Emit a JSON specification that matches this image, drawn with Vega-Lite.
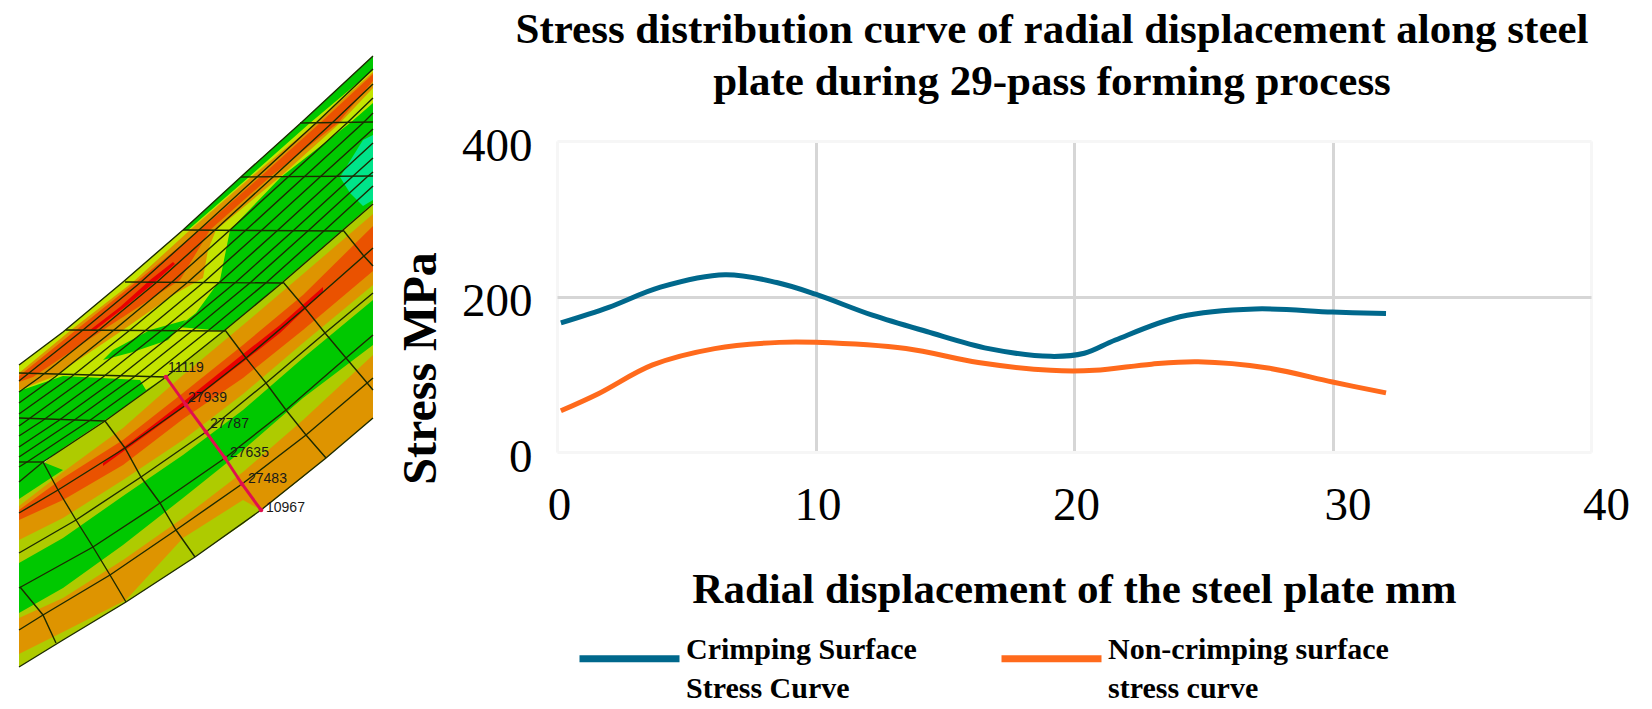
{
  "$schema": "https://vega.github.io/schema/vega-lite/v6.json",
  "background": "white",
  "padding": {"left": 16, "top": 9, "right": 0, "bottom": 0},
  "spacing": 21,
  "config": {"view": {"stroke": null}},
  "datasets": {
    "curves": [
      {"series": "Crimping Surface Stress Curve", "disp": 0.15, "stress": 166},
      {"series": "Crimping Surface Stress Curve", "disp": 2, "stress": 186},
      {"series": "Crimping Surface Stress Curve", "disp": 4, "stress": 212},
      {"series": "Crimping Surface Stress Curve", "disp": 6.5, "stress": 228},
      {"series": "Crimping Surface Stress Curve", "disp": 8.5, "stress": 218},
      {"series": "Crimping Surface Stress Curve", "disp": 10, "stress": 203},
      {"series": "Crimping Surface Stress Curve", "disp": 12.2, "stress": 176},
      {"series": "Crimping Surface Stress Curve", "disp": 14.3, "stress": 155},
      {"series": "Crimping Surface Stress Curve", "disp": 16.7, "stress": 133},
      {"series": "Crimping Surface Stress Curve", "disp": 19.1, "stress": 123},
      {"series": "Crimping Surface Stress Curve", "disp": 20.4, "stress": 127},
      {"series": "Crimping Surface Stress Curve", "disp": 21.6, "stress": 144},
      {"series": "Crimping Surface Stress Curve", "disp": 24.1, "stress": 174},
      {"series": "Crimping Surface Stress Curve", "disp": 27, "stress": 184},
      {"series": "Crimping Surface Stress Curve", "disp": 30, "stress": 180},
      {"series": "Crimping Surface Stress Curve", "disp": 32.07, "stress": 178},
      {"series": "Non-crimping surface stress curve", "disp": 0.15, "stress": 53},
      {"series": "Non-crimping surface stress curve", "disp": 1.6, "stress": 75},
      {"series": "Non-crimping surface stress curve", "disp": 3.7, "stress": 112},
      {"series": "Non-crimping surface stress curve", "disp": 6.1, "stress": 133},
      {"series": "Non-crimping surface stress curve", "disp": 8.6, "stress": 141},
      {"series": "Non-crimping surface stress curve", "disp": 10, "stress": 141},
      {"series": "Non-crimping surface stress curve", "disp": 13.5, "stress": 133},
      {"series": "Non-crimping surface stress curve", "disp": 16.3, "stress": 115},
      {"series": "Non-crimping surface stress curve", "disp": 19.1, "stress": 105},
      {"series": "Non-crimping surface stress curve", "disp": 20.8, "stress": 105},
      {"series": "Non-crimping surface stress curve", "disp": 23, "stress": 113},
      {"series": "Non-crimping surface stress curve", "disp": 24.8, "stress": 116},
      {"series": "Non-crimping surface stress curve", "disp": 27.5, "stress": 108},
      {"series": "Non-crimping surface stress curve", "disp": 30, "stress": 90},
      {"series": "Non-crimping surface stress curve", "disp": 32.07, "stress": 76}
    ],
    "patches": [
      {"patch": "a", "band": "green", "x": 16, "y": 365}, {"patch": "a", "band": "green", "x": 60, "y": 332}, {"patch": "a", "band": "green", "x": 120, "y": 282}, {"patch": "a", "band": "green", "x": 180, "y": 230}, {"patch": "a", "band": "green", "x": 240, "y": 175}, {"patch": "a", "band": "green", "x": 300, "y": 121}, {"patch": "a", "band": "green", "x": 370, "y": 56}, {"patch": "a", "band": "green", "x": 370, "y": 204}, {"patch": "a", "band": "green", "x": 340, "y": 230}, {"patch": "a", "band": "green", "x": 280, "y": 282}, {"patch": "a", "band": "green", "x": 222, "y": 330}, {"patch": "a", "band": "green", "x": 163, "y": 377}, {"patch": "a", "band": "green", "x": 102, "y": 421}, {"patch": "a", "band": "green", "x": 40, "y": 462}, {"patch": "a", "band": "green", "x": 16, "y": 482},
      {"patch": "b", "band": "teal", "x": 370, "y": 135}, {"patch": "b", "band": "teal", "x": 360, "y": 140}, {"patch": "b", "band": "teal", "x": 337, "y": 177}, {"patch": "b", "band": "teal", "x": 347, "y": 193}, {"patch": "b", "band": "teal", "x": 360, "y": 206}, {"patch": "b", "band": "teal", "x": 370, "y": 200},
      {"patch": "c", "band": "yellow", "x": 16, "y": 365}, {"patch": "c", "band": "yellow", "x": 60, "y": 332}, {"patch": "c", "band": "yellow", "x": 120, "y": 282}, {"patch": "c", "band": "yellow", "x": 180, "y": 230}, {"patch": "c", "band": "yellow", "x": 240, "y": 175}, {"patch": "c", "band": "yellow", "x": 300, "y": 121}, {"patch": "c", "band": "yellow", "x": 370, "y": 56}, {"patch": "c", "band": "yellow", "x": 370, "y": 103}, {"patch": "c", "band": "yellow", "x": 347, "y": 123}, {"patch": "c", "band": "yellow", "x": 278, "y": 177}, {"patch": "c", "band": "yellow", "x": 227, "y": 230}, {"patch": "c", "band": "yellow", "x": 217, "y": 280}, {"patch": "c", "band": "yellow", "x": 193, "y": 313}, {"patch": "c", "band": "yellow", "x": 175, "y": 327}, {"patch": "c", "band": "yellow", "x": 222, "y": 331}, {"patch": "c", "band": "yellow", "x": 163, "y": 377}, {"patch": "c", "band": "yellow", "x": 143, "y": 390}, {"patch": "c", "band": "yellow", "x": 137, "y": 380}, {"patch": "c", "band": "yellow", "x": 60, "y": 376}, {"patch": "c", "band": "yellow", "x": 16, "y": 391},
      {"patch": "d", "band": "green", "x": 183, "y": 320}, {"patch": "d", "band": "green", "x": 147, "y": 330}, {"patch": "d", "band": "green", "x": 110, "y": 350}, {"patch": "d", "band": "green", "x": 100, "y": 360}, {"patch": "d", "band": "green", "x": 130, "y": 352}, {"patch": "d", "band": "green", "x": 165, "y": 340},
      {"patch": "e", "band": "green", "x": 180, "y": 230}, {"patch": "e", "band": "green", "x": 240, "y": 175}, {"patch": "e", "band": "green", "x": 300, "y": 121}, {"patch": "e", "band": "green", "x": 370, "y": 56}, {"patch": "e", "band": "green", "x": 370, "y": 70}, {"patch": "e", "band": "green", "x": 307, "y": 123}, {"patch": "e", "band": "green", "x": 246, "y": 177}, {"patch": "e", "band": "green", "x": 185, "y": 230},
      {"patch": "f", "band": "orange", "x": 16, "y": 373}, {"patch": "f", "band": "orange", "x": 68, "y": 330}, {"patch": "f", "band": "orange", "x": 130, "y": 282}, {"patch": "f", "band": "orange", "x": 187, "y": 230}, {"patch": "f", "band": "orange", "x": 248, "y": 177}, {"patch": "f", "band": "orange", "x": 313, "y": 123}, {"patch": "f", "band": "orange", "x": 370, "y": 72}, {"patch": "f", "band": "orange", "x": 370, "y": 88}, {"patch": "f", "band": "orange", "x": 337, "y": 123}, {"patch": "f", "band": "orange", "x": 277, "y": 177}, {"patch": "f", "band": "orange", "x": 213, "y": 230}, {"patch": "f", "band": "orange", "x": 205, "y": 250}, {"patch": "f", "band": "orange", "x": 200, "y": 278}, {"patch": "f", "band": "orange", "x": 170, "y": 295}, {"patch": "f", "band": "orange", "x": 120, "y": 330}, {"patch": "f", "band": "orange", "x": 50, "y": 377}, {"patch": "f", "band": "orange", "x": 16, "y": 390},
      {"patch": "g", "band": "redorange", "x": 16, "y": 376}, {"patch": "g", "band": "redorange", "x": 73, "y": 330}, {"patch": "g", "band": "redorange", "x": 133, "y": 282}, {"patch": "g", "band": "redorange", "x": 197, "y": 230}, {"patch": "g", "band": "redorange", "x": 257, "y": 177}, {"patch": "g", "band": "redorange", "x": 317, "y": 123}, {"patch": "g", "band": "redorange", "x": 370, "y": 74}, {"patch": "g", "band": "redorange", "x": 370, "y": 81}, {"patch": "g", "band": "redorange", "x": 335, "y": 123}, {"patch": "g", "band": "redorange", "x": 267, "y": 177}, {"patch": "g", "band": "redorange", "x": 207, "y": 230}, {"patch": "g", "band": "redorange", "x": 177, "y": 280}, {"patch": "g", "band": "redorange", "x": 100, "y": 330}, {"patch": "g", "band": "redorange", "x": 30, "y": 377}, {"patch": "g", "band": "redorange", "x": 16, "y": 382},
      {"patch": "h", "band": "red", "x": 170, "y": 262}, {"patch": "h", "band": "red", "x": 147, "y": 280}, {"patch": "h", "band": "red", "x": 117, "y": 307}, {"patch": "h", "band": "red", "x": 87, "y": 330}, {"patch": "h", "band": "red", "x": 92, "y": 330}, {"patch": "h", "band": "red", "x": 122, "y": 307}, {"patch": "h", "band": "red", "x": 152, "y": 282}, {"patch": "h", "band": "red", "x": 172, "y": 264},
      {"patch": "i", "band": "olive", "x": 16, "y": 482}, {"patch": "i", "band": "olive", "x": 60, "y": 448}, {"patch": "i", "band": "olive", "x": 120, "y": 408}, {"patch": "i", "band": "olive", "x": 180, "y": 363}, {"patch": "i", "band": "olive", "x": 240, "y": 315}, {"patch": "i", "band": "olive", "x": 300, "y": 264}, {"patch": "i", "band": "olive", "x": 370, "y": 203}, {"patch": "i", "band": "olive", "x": 370, "y": 418}, {"patch": "i", "band": "olive", "x": 300, "y": 477}, {"patch": "i", "band": "olive", "x": 240, "y": 524}, {"patch": "i", "band": "olive", "x": 180, "y": 565}, {"patch": "i", "band": "olive", "x": 120, "y": 604}, {"patch": "i", "band": "olive", "x": 60, "y": 640}, {"patch": "i", "band": "olive", "x": 16, "y": 667},
      {"patch": "j", "band": "green", "x": 16, "y": 482}, {"patch": "j", "band": "green", "x": 40, "y": 462}, {"patch": "j", "band": "green", "x": 60, "y": 470}, {"patch": "j", "band": "green", "x": 16, "y": 499},
      {"patch": "k", "band": "orange", "x": 16, "y": 506}, {"patch": "k", "band": "orange", "x": 60, "y": 472}, {"patch": "k", "band": "orange", "x": 120, "y": 428}, {"patch": "k", "band": "orange", "x": 180, "y": 375}, {"patch": "k", "band": "orange", "x": 240, "y": 325}, {"patch": "k", "band": "orange", "x": 300, "y": 274}, {"patch": "k", "band": "orange", "x": 370, "y": 214}, {"patch": "k", "band": "orange", "x": 370, "y": 285}, {"patch": "k", "band": "orange", "x": 300, "y": 343}, {"patch": "k", "band": "orange", "x": 240, "y": 394}, {"patch": "k", "band": "orange", "x": 180, "y": 440}, {"patch": "k", "band": "orange", "x": 120, "y": 480}, {"patch": "k", "band": "orange", "x": 60, "y": 518}, {"patch": "k", "band": "orange", "x": 16, "y": 540},
      {"patch": "l", "band": "redorange", "x": 16, "y": 510}, {"patch": "l", "band": "redorange", "x": 60, "y": 478}, {"patch": "l", "band": "redorange", "x": 120, "y": 440}, {"patch": "l", "band": "redorange", "x": 180, "y": 393}, {"patch": "l", "band": "redorange", "x": 240, "y": 345}, {"patch": "l", "band": "redorange", "x": 300, "y": 295}, {"patch": "l", "band": "redorange", "x": 370, "y": 226}, {"patch": "l", "band": "redorange", "x": 370, "y": 271}, {"patch": "l", "band": "redorange", "x": 300, "y": 330}, {"patch": "l", "band": "redorange", "x": 240, "y": 378}, {"patch": "l", "band": "redorange", "x": 180, "y": 419}, {"patch": "l", "band": "redorange", "x": 120, "y": 465}, {"patch": "l", "band": "redorange", "x": 60, "y": 500}, {"patch": "l", "band": "redorange", "x": 16, "y": 520},
      {"patch": "m", "band": "red", "x": 100, "y": 463}, {"patch": "m", "band": "red", "x": 150, "y": 425}, {"patch": "m", "band": "red", "x": 180, "y": 402}, {"patch": "m", "band": "red", "x": 240, "y": 354}, {"patch": "m", "band": "red", "x": 277, "y": 325}, {"patch": "m", "band": "red", "x": 320, "y": 287}, {"patch": "m", "band": "red", "x": 320, "y": 292}, {"patch": "m", "band": "red", "x": 277, "y": 333}, {"patch": "m", "band": "red", "x": 240, "y": 362}, {"patch": "m", "band": "red", "x": 180, "y": 408}, {"patch": "m", "band": "red", "x": 150, "y": 430}, {"patch": "m", "band": "red", "x": 100, "y": 466},
      {"patch": "n", "band": "green", "x": 16, "y": 563}, {"patch": "n", "band": "green", "x": 60, "y": 538}, {"patch": "n", "band": "green", "x": 120, "y": 496}, {"patch": "n", "band": "green", "x": 180, "y": 455}, {"patch": "n", "band": "green", "x": 240, "y": 410}, {"patch": "n", "band": "green", "x": 300, "y": 358}, {"patch": "n", "band": "green", "x": 370, "y": 300}, {"patch": "n", "band": "green", "x": 370, "y": 345}, {"patch": "n", "band": "green", "x": 300, "y": 398}, {"patch": "n", "band": "green", "x": 240, "y": 450}, {"patch": "n", "band": "green", "x": 180, "y": 498}, {"patch": "n", "band": "green", "x": 120, "y": 545}, {"patch": "n", "band": "green", "x": 60, "y": 588}, {"patch": "n", "band": "green", "x": 16, "y": 613},
      {"patch": "o", "band": "orange", "x": 16, "y": 618}, {"patch": "o", "band": "orange", "x": 60, "y": 598}, {"patch": "o", "band": "orange", "x": 120, "y": 560}, {"patch": "o", "band": "orange", "x": 180, "y": 518}, {"patch": "o", "band": "orange", "x": 240, "y": 472}, {"patch": "o", "band": "orange", "x": 300, "y": 420}, {"patch": "o", "band": "orange", "x": 370, "y": 355}, {"patch": "o", "band": "orange", "x": 370, "y": 418}, {"patch": "o", "band": "orange", "x": 300, "y": 477}, {"patch": "o", "band": "orange", "x": 258, "y": 510}, {"patch": "o", "band": "orange", "x": 240, "y": 500}, {"patch": "o", "band": "orange", "x": 180, "y": 538}, {"patch": "o", "band": "orange", "x": 123, "y": 600}, {"patch": "o", "band": "orange", "x": 60, "y": 632}, {"patch": "o", "band": "orange", "x": 16, "y": 654}
    ],
    "mesh": [
      {"line": "edge", "x": 16, "y": 365}, {"line": "edge", "x": 60, "y": 332}, {"line": "edge", "x": 120, "y": 282}, {"line": "edge", "x": 180, "y": 230}, {"line": "edge", "x": 240, "y": 175}, {"line": "edge", "x": 300, "y": 121}, {"line": "edge", "x": 370, "y": 56},
      {"line": "bottom", "x": 16, "y": 667}, {"line": "bottom", "x": 60, "y": 640}, {"line": "bottom", "x": 123, "y": 602}, {"line": "bottom", "x": 192, "y": 557}, {"line": "bottom", "x": 258, "y": 510}, {"line": "bottom", "x": 323, "y": 458}, {"line": "bottom", "x": 370, "y": 418},
      {"line": "fold", "x": 16, "y": 482}, {"line": "fold", "x": 40, "y": 462}, {"line": "fold", "x": 102, "y": 421}, {"line": "fold", "x": 163, "y": 377}, {"line": "fold", "x": 222, "y": 330}, {"line": "fold", "x": 280, "y": 282}, {"line": "fold", "x": 340, "y": 230}, {"line": "fold", "x": 370, "y": 204},
      {"line": "L1", "x": 16, "y": 513}, {"line": "L1", "x": 55, "y": 490}, {"line": "L1", "x": 122, "y": 448}, {"line": "L1", "x": 183, "y": 405}, {"line": "L1", "x": 243, "y": 358}, {"line": "L1", "x": 302, "y": 308}, {"line": "L1", "x": 370, "y": 248},
      {"line": "L2", "x": 16, "y": 553}, {"line": "L2", "x": 73, "y": 520}, {"line": "L2", "x": 138, "y": 477}, {"line": "L2", "x": 203, "y": 432}, {"line": "L2", "x": 263, "y": 383}, {"line": "L2", "x": 322, "y": 333}, {"line": "L2", "x": 370, "y": 293},
      {"line": "L3", "x": 16, "y": 588}, {"line": "L3", "x": 90, "y": 547}, {"line": "L3", "x": 157, "y": 503}, {"line": "L3", "x": 222, "y": 458}, {"line": "L3", "x": 283, "y": 410}, {"line": "L3", "x": 343, "y": 358}, {"line": "L3", "x": 370, "y": 335},
      {"line": "L4", "x": 16, "y": 630}, {"line": "L4", "x": 40, "y": 615}, {"line": "L4", "x": 107, "y": 575}, {"line": "L4", "x": 173, "y": 530}, {"line": "L4", "x": 239, "y": 484}, {"line": "L4", "x": 303, "y": 435}, {"line": "L4", "x": 370, "y": 378},
      {"line": "T0", "x": 17, "y": 587}, {"line": "T0", "x": 40, "y": 615}, {"line": "T0", "x": 53, "y": 643},
      {"line": "T1", "x": 40, "y": 462}, {"line": "T1", "x": 55, "y": 490}, {"line": "T1", "x": 73, "y": 520}, {"line": "T1", "x": 90, "y": 547}, {"line": "T1", "x": 107, "y": 575}, {"line": "T1", "x": 123, "y": 602},
      {"line": "T2", "x": 102, "y": 421}, {"line": "T2", "x": 122, "y": 448}, {"line": "T2", "x": 138, "y": 477}, {"line": "T2", "x": 157, "y": 503}, {"line": "T2", "x": 173, "y": 530}, {"line": "T2", "x": 192, "y": 557},
      {"line": "T3", "x": 222, "y": 330}, {"line": "T3", "x": 243, "y": 358}, {"line": "T3", "x": 263, "y": 383}, {"line": "T3", "x": 283, "y": 410}, {"line": "T3", "x": 303, "y": 435}, {"line": "T3", "x": 323, "y": 458},
      {"line": "T4", "x": 280, "y": 282}, {"line": "T4", "x": 302, "y": 308}, {"line": "T4", "x": 322, "y": 333}, {"line": "T4", "x": 343, "y": 358}, {"line": "T4", "x": 360, "y": 378}, {"line": "T4", "x": 370, "y": 390},
      {"line": "T5", "x": 340, "y": 230}, {"line": "T5", "x": 360, "y": 255}, {"line": "T5", "x": 370, "y": 266},
      {"line": "row1", "x": 16, "y": 462}, {"line": "row1", "x": 40, "y": 462},
      {"line": "row2", "x": 16, "y": 418}, {"line": "row2", "x": 102, "y": 421},
      {"line": "row3", "x": 16, "y": 373}, {"line": "row3", "x": 163, "y": 377},
      {"line": "row4", "x": 63, "y": 330}, {"line": "row4", "x": 222, "y": 331},
      {"line": "row5", "x": 122, "y": 282}, {"line": "row5", "x": 280, "y": 283},
      {"line": "row6", "x": 180, "y": 230}, {"line": "row6", "x": 340, "y": 231},
      {"line": "row7", "x": 238, "y": 177}, {"line": "row7", "x": 370, "y": 176},
      {"line": "row8", "x": 297, "y": 123}, {"line": "row8", "x": 370, "y": 122},
      {"line": "r1", "x": 16, "y": 381}, {"line": "r1", "x": 21, "y": 377}, {"line": "r1", "x": 80, "y": 330}, {"line": "r1", "x": 138, "y": 282}, {"line": "r1", "x": 196, "y": 230}, {"line": "r1", "x": 254, "y": 177}, {"line": "r1", "x": 313, "y": 123}, {"line": "r1", "x": 370, "y": 69},
      {"line": "r2", "x": 16, "y": 392}, {"line": "r2", "x": 37, "y": 377}, {"line": "r2", "x": 96, "y": 330}, {"line": "r2", "x": 154, "y": 282}, {"line": "r2", "x": 212, "y": 230}, {"line": "r2", "x": 270, "y": 177}, {"line": "r2", "x": 329, "y": 123}, {"line": "r2", "x": 370, "y": 84},
      {"line": "r3", "x": 16, "y": 403}, {"line": "r3", "x": 52, "y": 377}, {"line": "r3", "x": 111, "y": 330}, {"line": "r3", "x": 169, "y": 282}, {"line": "r3", "x": 227, "y": 230}, {"line": "r3", "x": 285, "y": 177}, {"line": "r3", "x": 344, "y": 123}, {"line": "r3", "x": 370, "y": 98},
      {"line": "r4", "x": 16, "y": 414}, {"line": "r4", "x": 68, "y": 377}, {"line": "r4", "x": 127, "y": 330}, {"line": "r4", "x": 185, "y": 282}, {"line": "r4", "x": 243, "y": 230}, {"line": "r4", "x": 301, "y": 177}, {"line": "r4", "x": 360, "y": 123}, {"line": "r4", "x": 370, "y": 113},
      {"line": "r5", "x": 16, "y": 426}, {"line": "r5", "x": 23, "y": 421}, {"line": "r5", "x": 84, "y": 377}, {"line": "r5", "x": 143, "y": 330}, {"line": "r5", "x": 201, "y": 282}, {"line": "r5", "x": 259, "y": 230}, {"line": "r5", "x": 317, "y": 177}, {"line": "r5", "x": 370, "y": 129},
      {"line": "r6", "x": 16, "y": 436}, {"line": "r6", "x": 39, "y": 421}, {"line": "r6", "x": 100, "y": 377}, {"line": "r6", "x": 159, "y": 330}, {"line": "r6", "x": 217, "y": 282}, {"line": "r6", "x": 275, "y": 230}, {"line": "r6", "x": 333, "y": 177}, {"line": "r6", "x": 370, "y": 143},
      {"line": "r7", "x": 16, "y": 447}, {"line": "r7", "x": 55, "y": 421}, {"line": "r7", "x": 116, "y": 377}, {"line": "r7", "x": 175, "y": 330}, {"line": "r7", "x": 233, "y": 282}, {"line": "r7", "x": 291, "y": 230}, {"line": "r7", "x": 349, "y": 177}, {"line": "r7", "x": 370, "y": 158},
      {"line": "r8", "x": 16, "y": 457}, {"line": "r8", "x": 70, "y": 421}, {"line": "r8", "x": 131, "y": 377}, {"line": "r8", "x": 190, "y": 330}, {"line": "r8", "x": 248, "y": 282}, {"line": "r8", "x": 306, "y": 230}, {"line": "r8", "x": 364, "y": 177}, {"line": "r8", "x": 370, "y": 172},
      {"line": "r9", "x": 16, "y": 467}, {"line": "r9", "x": 24, "y": 462}, {"line": "r9", "x": 86, "y": 421}, {"line": "r9", "x": 147, "y": 377}, {"line": "r9", "x": 206, "y": 330}, {"line": "r9", "x": 264, "y": 282}, {"line": "r9", "x": 322, "y": 230}, {"line": "r9", "x": 370, "y": 186}
    ],
    "nodes": [
      {"node": "11119", "x": 163, "y": 377, "tx": 165, "ty": 368},
      {"node": "27939", "x": 183, "y": 405, "tx": 185, "ty": 398},
      {"node": "27787", "x": 203, "y": 432, "tx": 207, "ty": 424},
      {"node": "27635", "x": 222, "y": 458, "tx": 227, "ty": 453},
      {"node": "27483", "x": 239, "y": 484, "tx": 245, "ty": 479},
      {"node": "10967", "x": 258, "y": 510, "tx": 263, "ty": 508}
    ]
  },
  "hconcat": [
    {
      "width": 354,
      "height": 530,
      "layer": [
        {
          "data": {"name": "patches"},
          "mark": {"type": "line", "strokeWidth": 0},
          "encoding": {
            "x": {"field": "x", "type": "quantitative", "scale": {"domain": [16, 370]}, "axis": null},
            "y": {"field": "y", "type": "quantitative", "scale": {"domain": [671, 141]}, "axis": null},
            "detail": {"field": "patch"},
            "order": {"value": null},
            "fill": {
              "field": "band",
              "type": "nominal",
              "legend": null,
              "scale": {
                "domain": ["green", "teal", "yellow", "olive", "orange", "redorange", "red"],
                "range": ["#00c800", "#00e48a", "#c4e400", "#aecb00", "#de9400", "#ea5200", "#e80000"]
              }
            }
          }
        },
        {
          "data": {"name": "mesh"},
          "mark": {"type": "line", "stroke": "#1c2a00", "strokeWidth": 1.4},
          "encoding": {
            "x": {"field": "x", "type": "quantitative", "scale": {"domain": [16, 370]}, "axis": null},
            "y": {"field": "y", "type": "quantitative", "scale": {"domain": [671, 141]}, "axis": null},
            "detail": {"field": "line"},
            "order": {"value": null}
          }
        },
        {
          "data": {"name": "nodes"},
          "mark": {"type": "line", "stroke": "#e0104e", "strokeWidth": 3},
          "encoding": {
            "x": {"field": "x", "type": "quantitative", "scale": {"domain": [16, 370]}, "axis": null},
            "y": {"field": "y", "type": "quantitative", "scale": {"domain": [671, 141]}, "axis": null},
            "order": {"value": null}
          }
        },
        {
          "data": {"name": "nodes"},
          "mark": {"type": "point", "filled": true, "color": "#e0104e", "size": 22, "opacity": 1},
          "encoding": {
            "x": {"field": "x", "type": "quantitative", "scale": {"domain": [16, 370]}, "axis": null},
            "y": {"field": "y", "type": "quantitative", "scale": {"domain": [671, 141]}, "axis": null}
          }
        },
        {
          "data": {"name": "nodes"},
          "mark": {"type": "text", "align": "left", "baseline": "middle", "font": "Liberation Sans", "fontSize": 14, "fill": "#1a1a1a"},
          "encoding": {
            "x": {"field": "tx", "type": "quantitative", "scale": {"domain": [16, 370]}, "axis": null},
            "y": {"field": "ty", "type": "quantitative", "scale": {"domain": [671, 141]}, "axis": null},
            "text": {"field": "node"}
          }
        }
      ]
    },
    {
      "width": 1034,
      "height": 311,
      "title": {
        "text": ["Stress distribution curve of radial displacement along steel", "plate during 29-pass forming process"],
        "font": "Liberation Serif",
        "fontWeight": "bold",
        "fontSize": 43,
        "lineHeight": 52,
        "color": "black",
        "anchor": "middle",
        "dx": -22,
        "offset": 18
      },
      "data": {"name": "curves"},
      "mark": {"type": "line", "interpolate": "catmull-rom", "strokeWidth": 5, "strokeCap": "butt"},
      "encoding": {
        "x": {
          "field": "disp",
          "type": "quantitative",
          "scale": {"domain": [0, 40], "nice": false},
          "axis": {
            "values": [0, 10, 20, 30, 40],
            "title": "Radial displacement of the steel plate mm",
            "titleFont": "Liberation Serif",
            "titleFontWeight": "bold",
            "titleFontSize": 43,
            "titleColor": "black",
            "titlePadding": 40,
            "labelFont": "Liberation Serif",
            "labelFontSize": 47,
            "labelColor": "black",
            "labelPadding": 30,
            "labelAngle": 0,
            "labelFlush": false,
            "labelOverlap": false,
            "labelOffset": {"condition": {"test": "datum.value >= 30", "value": 15}, "value": 2},
            "domain": false,
            "ticks": false,
            "grid": true,
            "gridWidth": 3,
            "gridColor": {"condition": {"test": "datum.value == 0 || datum.value == 40", "value": "#f6f6f6"}, "value": "#d6d6d6"}
          }
        },
        "y": {
          "field": "stress",
          "type": "quantitative",
          "scale": {"domain": [0, 400], "nice": false},
          "axis": {
            "values": [0, 200, 400],
            "title": "Stress MPa",
            "titleFont": "Liberation Serif",
            "titleFontWeight": "bold",
            "titleFontSize": 48,
            "titleColor": "black",
            "titleX": -112,
            "titleY": 227,
            "labelFont": "Liberation Serif",
            "labelFontSize": 47,
            "labelColor": "black",
            "labelPadding": 25,
            "labelOffset": 5,
            "labelFlush": false,
            "labelOverlap": false,
            "domain": false,
            "ticks": false,
            "grid": true,
            "gridWidth": 3,
            "gridColor": {"condition": {"test": "datum.value == 200", "value": "#d6d6d6"}, "value": "#f6f6f6"}
          }
        },
        "color": {
          "field": "series",
          "type": "nominal",
          "scale": {"range": ["#00688c", "#ff6a1c"]},
          "legend": {
            "title": null,
            "orient": "none",
            "legendX": 557,
            "legendY": 464,
            "direction": "horizontal",
            "columns": 2,
            "columnPadding": 70,
            "symbolType": "stroke",
            "symbolSize": 10000,
            "symbolStrokeWidth": 7,
            "labelFont": "Liberation Serif",
            "labelFontWeight": "bold",
            "labelFontSize": 30,
            "labelBaseline": "alphabetic",
            "labelColor": "black",
            "labelLimit": 0,
            "labelOffset": 3,
            "labelExpr": "datum.label == 'Crimping Surface Stress Curve' ? ['Crimping Surface', '\u2002Stress Curve'] : ['Non-crimping surface', '\u2002stress curve']",
            "encode": {"labels": {"update": {"lineHeight": {"value": 39}}}}
          }
        }
      }
    }
  ]
}
